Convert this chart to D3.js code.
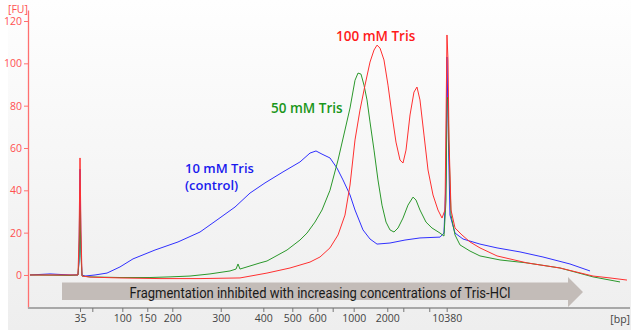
<!DOCTYPE html>
<html><head><meta charset="utf-8">
<script src="https://cdn.jsdelivr.net/npm/d3@7"></script>
<style>html,body{margin:0;padding:0;background:#fff;}svg{display:block;}</style>
</head><body>
<svg id="c" width="631" height="333"></svg>
<script>
// Ladder sizes (bp) and their migration times (s) used as x tick positions
const ladderSizes = [35, 50, 100, 150, 200, 300, 400, 500, 600, 700, 1000, 2000, 3000, 7000, 10380];
const ladderTimes = [28.67, 30.72, 35.72, 39.88, 44.05, 52.12, 59.22, 64.05, 68.22, 70.78, 74.28, 79.88, 82.55, 86.88, 89.78];
const labeledSizes = [35, 100, 150, 200, 300, 400, 500, 600, 1000, 2000, 10380];
const yTicks = [0, 20, 40, 60, 80, 100, 120];

// [time (s), fluorescence (FU)]
const tris10 = [[20.33,0],[23.67,0.5],[27.0,0],[28.33,0],[28.5,6.1],[28.67,50],[28.83,11.8],[29.0,0],[29.5,-0.5],[31.17,0],[33.17,0.9],[35.33,3.8],[37.5,7.6],[41.17,11.8],[45.0,15.6],[48.67,20.3],[51.5,26],[54.5,32.1],[57.0,38.7],[59.5,43.5],[62.5,48.7],[65.33,53.4],[67.0,57.6],[68.0,58.6],[69.0,57.1],[70.33,55.3],[71.5,50.5],[72.5,44.9],[73.67,37.8],[74.5,30.7],[75.83,21.3],[77.0,17],[78.17,14.6],[80.33,15.1],[82.83,16.5],[85.33,17.5],[88.67,17.9],[89.33,19.8],[89.67,44.9],[89.83,103],[90.0,73.2],[90.33,28.3],[91.17,19.8],[92.5,17],[95.33,14.6],[98.17,12.8],[102.0,10.9],[105.83,8.5],[110.33,5.2],[113.67,1.9]];
const tris50 = [[20.33,0],[27.0,-0.2],[28.33,0],[28.5,7.1],[28.67,30.7],[28.83,9.4],[29.0,-0.5],[30.33,-0.9],[35.33,-1.2],[40.33,-1.2],[43.67,-0.9],[47.0,-0.5],[50.33,0.5],[53.67,1.9],[54.67,2.8],[55.0,5.2],[55.33,2.8],[58.67,5.7],[59.83,6.6],[63.17,11.8],[65.33,16.5],[66.5,19.8],[67.83,25],[69.0,30.7],[70.33,40],[71.67,54.3],[72.83,68.5],[73.67,78.9],[74.5,92],[75.0,95.4],[75.5,94.9],[76.0,89.7],[76.5,82.7],[77.0,72.3],[77.67,59],[78.33,44.9],[79.0,33],[79.67,25],[80.33,21.3],[81.0,20.3],[81.67,22.2],[82.5,26.9],[83.33,33],[84.17,36.8],[84.67,35.4],[85.33,30.7],[86.33,25],[87.33,22.2],[88.67,19.8],[89.33,18.4],[89.67,35.4],[89.83,82.7],[90.0,84],[90.17,59],[90.5,28.3],[91.17,18.9],[92.0,14.2],[93.67,11.3],[95.33,9],[98.67,7.1],[103.17,5.7],[108.67,3.3],[114.17,-0.9],[118.67,-3.3]];
const tris100 = [[20.33,0],[28.33,0],[28.5,16.5],[28.67,55.3],[28.83,21.3],[29.0,-0.5],[30.33,-1.0],[35.33,-1.4],[42.0,-1.7],[48.67,-1.7],[55.33,-1.4],[59.83,0.9],[63.67,3.3],[67.0,6.1],[68.67,8.5],[70.33,12.8],[71.67,18.9],[72.83,28.3],[73.67,42.5],[74.5,63.8],[75.33,77.9],[76.17,89.7],[77.0,100.6],[77.67,106.3],[78.17,108.6],[78.67,107.2],[79.33,101.6],[80.0,89.7],[80.67,75.6],[81.33,62.8],[82.0,54.3],[82.5,52.9],[83.0,59],[83.67,75.6],[84.33,86.4],[84.83,88.8],[85.33,82.7],[86.0,66.1],[86.67,49.6],[87.5,37.8],[88.33,30.7],[89.0,26.9],[89.5,30.7],[89.67,73.2],[89.83,113.4],[90.0,101.6],[90.17,63.8],[90.5,30.7],[91.17,22.2],[92.33,18.9],[93.67,15.6],[95.33,12.8],[98.17,9],[103.17,5.7],[108.67,3.3],[114.17,-0.5],[117.0,-1.4],[119.83,-2.4]];

const seriesNames = ["10 mM Tris", "50 mM Tris", "100 mM Tris"];
const arrowText = "Fragmentation inhibited with increasing concentrations of Tris-HCl";

const svg = d3.select("#c");
const x = d3.scaleLinear().domain([20, 120]).range([28, 628]);
const y = d3.scaleLinear().domain([-15.6, 125.2]).range([308, 10]);

// background
const defs = svg.append("defs");
const g = defs.append("linearGradient").attr("id","bg").attr("x1",0).attr("y1",0).attr("x2",0).attr("y2",1);
g.append("stop").attr("offset","0%").attr("stop-color","#fefefe");
g.append("stop").attr("offset","100%").attr("stop-color","#eeeeee");
svg.append("rect").attr("x",0).attr("y",0).attr("width",631).attr("height",333).attr("fill","#fff");
svg.append("rect").attr("x",8).attr("y",0).attr("width",623).attr("height",330).attr("fill","url(#bg)");

// arrow
const ab = {x0: 62, x1: 568, tip: 583, t: 282.5, b: 300, ht: 277, hb: 307};
svg.append("path")
  .attr("d", `M${ab.x0},${ab.t}L${ab.x1},${ab.t}L${ab.x1},${ab.ht}L${ab.tip},${(ab.ht+ab.hb)/2}L${ab.x1},${ab.hb}L${ab.x1},${ab.b}L${ab.x0},${ab.b}Z`)
  .attr("fill","#c3bcb8");
const at = svg.append("text").attr("x",320).attr("y",297.5).attr("text-anchor","middle")
  .attr("font-family","Roboto, sans-serif").attr("font-size",15).attr("fill","#1a1a1a").text(arrowText);
at.attr("textLength",381).attr("lengthAdjust","spacingAndGlyphs");

// lines
const line = d3.line().x(d => x(d[0])).y(d => y(d[1]));
const colors = ["#3030ff", "#2b982b", "#ff3030"];
[tris10, tris50, tris100].forEach((s, i) => {
  svg.append("path").datum(s).attr("d", line).attr("fill","none")
    .attr("stroke", colors[i]).attr("stroke-width", 1).attr("stroke-linejoin","round");
});

// y axis
const ya = svg.append("g").attr("transform","translate(28,0)")
  .call(d3.axisLeft(y).tickValues(yTicks).tickSize(4).tickSizeOuter(0).tickPadding(2));
ya.select(".domain").attr("stroke","#ff7070").attr("stroke-width",1.3);
ya.selectAll(".tick line").attr("stroke","#ff7070");
ya.selectAll(".tick text").attr("fill","#ff5050").attr("font-family","Open Sans, sans-serif").attr("font-size",10.5);

// x axis
const xa = svg.append("g").attr("transform","translate(0,308)")
  .call(d3.axisBottom(x).tickValues(ladderTimes).tickSize(4).tickSizeOuter(0).tickPadding(3)
    .tickFormat((d, i) => labeledSizes.includes(ladderSizes[i]) ? String(ladderSizes[i]) : ""));
xa.select(".domain").attr("stroke","#a8a8a8").attr("stroke-width",2).attr("d","M28,0H630");
xa.selectAll(".tick line").attr("stroke","#777");
xa.selectAll(".tick text").attr("fill","#444").attr("font-family","Open Sans, sans-serif").attr("font-size",10.5);

// unit labels
svg.append("text").attr("x",8).attr("y",12.5).attr("fill","#ff5050").attr("font-family","Open Sans, sans-serif").attr("font-size",10.5).text("[FU]");
svg.append("text").attr("x",630).attr("y",323).attr("text-anchor","end").attr("fill","#444").attr("font-family","Open Sans, sans-serif").attr("font-size",10.5).text("[bp]");

// series labels
const lf = "Open Sans, sans-serif";
svg.append("text").attr("x",336).attr("y",41).attr("fill","#ff1a1a").attr("font-family",lf).attr("font-weight",600).attr("font-size",13.5).text(seriesNames[2]);
svg.append("text").attr("x",271).attr("y",113).attr("fill","#1a961a").attr("font-family",lf).attr("font-weight",600).attr("font-size",13.5).text(seriesNames[1]);
svg.append("text").attr("x",185).attr("y",172.5).attr("fill","#1a1aee").attr("font-family",lf).attr("font-weight",600).attr("font-size",13).text(seriesNames[0]);
svg.append("text").attr("x",185).attr("y",190).attr("fill","#1a1aee").attr("font-family",lf).attr("font-weight",600).attr("font-size",13).text("(control)");
</script>
</body></html>
